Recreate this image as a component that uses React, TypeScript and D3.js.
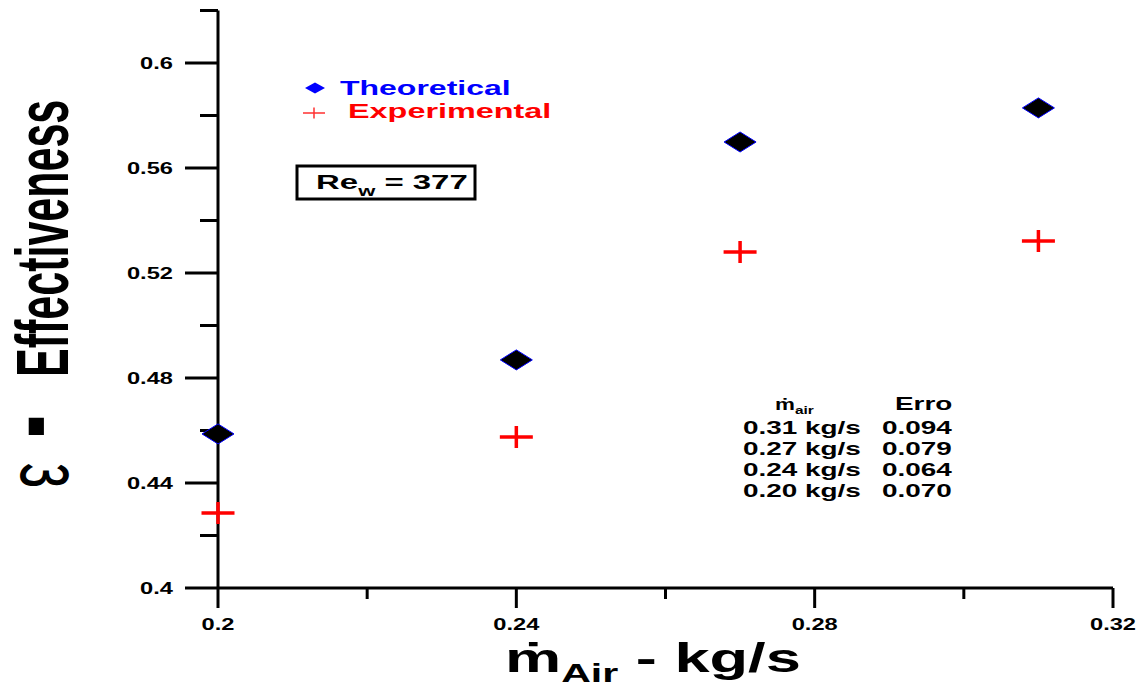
import React from "react";
import * as d3 from "d3";

const massFlow = [0.2, 0.24, 0.27, 0.31];
const theoretical = [0.4587, 0.4869, 0.5699, 0.5829];
const experimental = [0.4286, 0.4575, 0.528, 0.5322];
const xMajorTicks = [0.2, 0.24, 0.28, 0.32];
const xMinorTicks = [0.22, 0.26, 0.3];
const yMajorTicks = [0.4, 0.44, 0.48, 0.52, 0.56, 0.6];
const yMinorTicks = [0.42, 0.46, 0.5, 0.54, 0.58, 0.62];
const errorRows = [
  { flow: "0.31 kg/s", err: "0.094" },
  { flow: "0.27 kg/s", err: "0.079" },
  { flow: "0.24 kg/s", err: "0.064" },
  { flow: "0.20 kg/s", err: "0.070" },
];

const W = 1141;
const H = 686;
const FONT = "'Liberation Sans', Arial, Helvetica, sans-serif";

const x = d3.scaleLinear().domain([0.2, 0.32]).range([218, 1113]);
const y = d3.scaleLinear().domain([0.4, 0.6]).range([588, 63]);

function SText(props: {
  x: number;
  y: number;
  sx?: number;
  size: number;
  anchor?: string;
  fill?: string;
  weight?: string;
  children: React.ReactNode;
}) {
  const sx = props.sx ?? 1.5;
  return (
    <text
      transform={`translate(${props.x},${props.y}) scale(${sx},1)`}
      fontFamily={FONT}
      fontSize={props.size}
      fontWeight={props.weight ?? "bold"}
      textAnchor={props.anchor ?? "start"}
      fill={props.fill ?? "#000"}
    >
      {props.children}
    </text>
  );
}

const diamond = (hw: number, hh: number) =>
  `M${-hw},0L0,${-hh}L${hw},0L0,${hh}Z`;
const plus = (hw: number, hh: number) =>
  `M${-hw},0L${hw},0M0,${-hh}L0,${hh}`;

export default function App() {
  const x0 = x(0.2);
  const y0 = y(0.4);
  const yTop = y(0.62);
  return (
    <svg
      width={W}
      height={H}
      style={{ position: "absolute", left: 0, top: 0, background: "#fff" }}
    >
      <rect width={W} height={H} fill="#fff" />
      {/* axes */}
      <line x1={x0} x2={x0} y1={yTop} y2={y0} stroke="#000" strokeWidth={3} />
      <line x1={x0} x2={x(0.32)} y1={y0} y2={y0} stroke="#000" strokeWidth={3} />
      {yMajorTicks.map((t) => (
        <g key={"ym" + t}>
          <line x1={x0 - 33} x2={x0} y1={y(t)} y2={y(t)} stroke="#000" strokeWidth={3} />
          <SText x={173} y={y(t) + 5.5} size={16} anchor="end" sx={1.48}>
            {String(t)}
          </SText>
        </g>
      ))}
      {yMinorTicks.map((t) => (
        <line key={"yn" + t} x1={x0 - 18} x2={x0} y1={y(t)} y2={y(t)} stroke="#000" strokeWidth={3} />
      ))}
      {xMajorTicks.map((t) => (
        <g key={"xm" + t}>
          <line x1={x(t)} x2={x(t)} y1={y0} y2={y0 + 20} stroke="#000" strokeWidth={3} />
          <SText x={x(t)} y={630} size={16} anchor="middle" sx={1.48}>
            {String(t)}
          </SText>
        </g>
      ))}
      {xMinorTicks.map((t) => (
        <line key={"xn" + t} x1={x(t)} x2={x(t)} y1={y0} y2={y0 + 11} stroke="#000" strokeWidth={3} />
      ))}

      {/* data */}
      {massFlow.map((m, i) => (
        <path
          key={"e" + i}
          d={plus(16.5, 11)}
          transform={`translate(${x(m)},${y(experimental[i])})`}
          stroke="#ff0000"
          strokeWidth={3.5}
          fill="none"
        />
      ))}
      {massFlow.map((m, i) => (
        <path
          key={"t" + i}
          d={diamond(16, 10)}
          transform={`translate(${x(m)},${y(theoretical[i])})`}
          fill="#000"
          stroke="#0000ff"
          strokeWidth={1}
        />
      ))}

      {/* legend */}
      <path d={diamond(10, 5.5)} transform="translate(315,88)" fill="#0000ff" />
      <SText x={340} y={95} size={20} fill="#0000ff" sx={1.6}>
        Theoretical
      </SText>
      <path d={plus(11, 5.5)} transform="translate(314,113)" stroke="#ff3030" strokeWidth={1.5} fill="none" />
      <SText x={348} y={118} size={20.5} fill="#ff0000" sx={1.58}>
        Experimental
      </SText>

      {/* Re box */}
      <rect x={297} y={166} width={178} height={33} fill="#fff" stroke="#000" strokeWidth={3} />
      <SText x={316} y={189} size={21} sx={1.57}>
        Re
        <tspan fontSize={14} dy={7}>w</tspan>
        <tspan dy={-7}> = 377</tspan>
      </SText>

      {/* error table */}
      <SText x={775} y={410} size={16} sx={1.4}>
        ṁ
        <tspan fontSize={11} dy={4}>air</tspan>
      </SText>
      <SText x={895} y={410} size={18} sx={1.55}>
        Erro
      </SText>
      {errorRows.map((r, i) => (
        <g key={"r" + i}>
          <SText x={743} y={434 + i * 21} size={18} sx={1.55}>
            {r.flow}
          </SText>
          <SText x={882} y={434 + i * 21} size={18} sx={1.55}>
            {r.err}
          </SText>
        </g>
      ))}

      {/* x title */}
      <SText x={505} y={672} size={40} sx={1.58}>
        ṁ
        <tspan fontSize={26} dy={10}>Air</tspan>
        <tspan dy={-10}> - kg/s</tspan>
      </SText>

      {/* y title */}
      <g transform="translate(68,377) scale(1.72,1) rotate(-90)">
        <text fontFamily={FONT} fontSize={43} fontWeight="bold" fill="#000">
          Effectiveness
        </text>
      </g>
      <g transform="translate(18,418) scale(1.46,1) rotate(90)">
        <text
          fontFamily={FONT}
          fontSize={50}
          fontWeight="bold"
          fill="#000"
          stroke="#000"
          strokeWidth={4.5}
          strokeLinejoin="miter"
        >
          -
        </text>
      </g>
      <g transform="translate(21,488) scale(1.6,1) rotate(-90) scale(1,-1)">
        <text fontFamily={FONT} fontSize={56} fontWeight="normal" fill="#000">
          ε
        </text>
      </g>
    </svg>
  );
}
